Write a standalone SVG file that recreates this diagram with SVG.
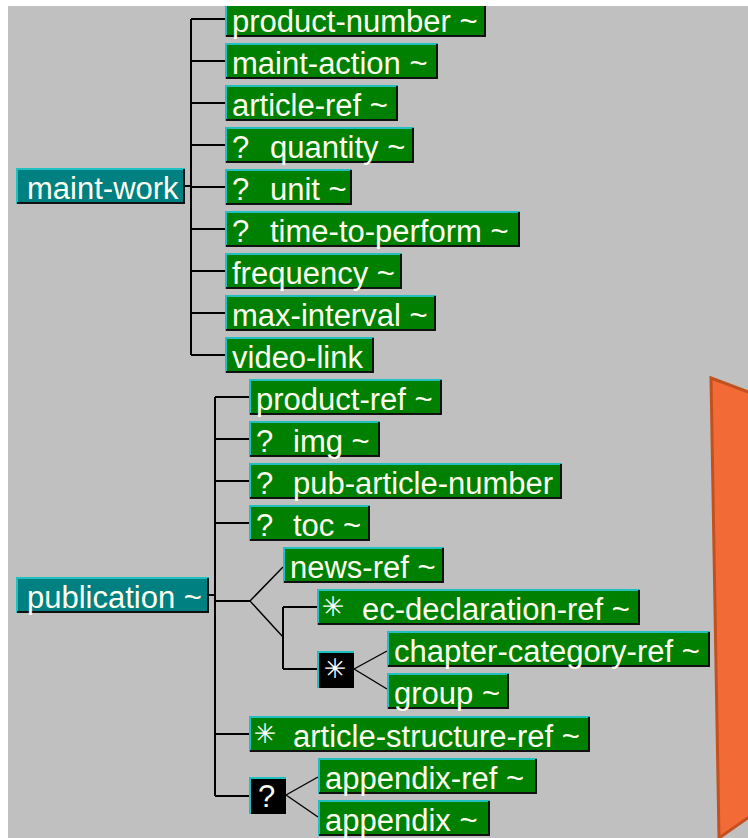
<svg xmlns="http://www.w3.org/2000/svg" width="748" height="838" viewBox="0 0 748 838">
<style>
.bg{fill:#c0c0c0}
.g{fill:#008000}
.t{fill:#008080}
.k{fill:#000}
.hi{stroke:#20c0c0;stroke-width:2;fill:none}
.sh{stroke:#111;stroke-width:2;fill:none}
.lbl{font-family:"Liberation Sans",Arial,sans-serif;font-size:31px;fill:#fffff0}
.sym{font-family:"DejaVu Sans",sans-serif;font-size:27px;fill:#ffffff;text-anchor:middle;dominant-baseline:central}
.wire{stroke:#000;stroke-width:2;fill:none}
.fork{stroke:#000;stroke-width:1.4;fill:none}
.orange{fill:#f26a35;stroke:#c2511f;stroke-width:3}
</style>
<rect width="748" height="838" fill="#fff"/>
<rect class="bg" x="8" y="6" width="740" height="832"/>
<polygon class="orange" points="711,378 762,397 762,808 719,838"/>

<g id="connectors">
<path class="wire" d="M185,186H191M191,19V355M191,19H225M191,61H225M191,103H225M191,145H225M191,187H225M191,229H225M191,271H225M191,313H225M191,355H225"/>
<path class="wire" d="M209,595H215M215,397V796M215,397H249M215,439H249M215,481H249M215,523H249M215,601H250M215,734H249M215,796H249"/>
<path class="fork" d="M250,601L283,567M250,601L283,637"/>
<path class="wire" d="M283,607V669M283,607H317M283,669H317"/>
<path class="fork" d="M354,669L387,651M354,669L387,689"/>
<path class="fork" d="M286,795L318,777M286,795L318,817"/>
</g>

<g id="maint-work"><rect class="t" x="16" y="168" width="169" height="36"/><path class="hi" d="M17,204V169H185"/><path class="sh" d="M17,203H184V169"/><text class="lbl" x="27" y="199">maint-work</text></g>

<g id="product-number"><rect class="g" x="225" y="1" width="261" height="36"/><path class="hi" d="M226,37V2H486"/><path class="sh" d="M226,36H485V2"/><text class="lbl" x="232" y="32">product-number ~</text></g>
<g id="maint-action"><rect class="g" x="225" y="43" width="213" height="36"/><path class="hi" d="M226,79V44H438"/><path class="sh" d="M226,78H437V44"/><text class="lbl" x="232" y="74">maint-action ~</text></g>
<g id="article-ref"><rect class="g" x="225" y="85" width="173" height="36"/><path class="hi" d="M226,121V86H398"/><path class="sh" d="M226,120H397V86"/><text class="lbl" x="232" y="116">article-ref ~</text></g>
<g id="quantity"><rect class="g" x="225" y="127" width="189" height="36"/><path class="hi" d="M226,163V128H414"/><path class="sh" d="M226,162H413V128"/><text class="lbl" x="232" y="158">?<tspan x="270">quantity ~</tspan></text></g>
<g id="unit"><rect class="g" x="225" y="169" width="127" height="36"/><path class="hi" d="M226,205V170H352"/><path class="sh" d="M226,204H351V170"/><text class="lbl" x="232" y="200">?<tspan x="270">unit ~</tspan></text></g>
<g id="time-to-perform"><rect class="g" x="225" y="211" width="295" height="36"/><path class="hi" d="M226,247V212H520"/><path class="sh" d="M226,246H519V212"/><text class="lbl" x="232" y="242">?<tspan x="270">time-to-perform ~</tspan></text></g>
<g id="frequency"><rect class="g" x="225" y="253" width="177" height="36"/><path class="hi" d="M226,289V254H402"/><path class="sh" d="M226,288H401V254"/><text class="lbl" x="232" y="284">frequency ~</text></g>
<g id="max-interval"><rect class="g" x="225" y="295" width="211" height="36"/><path class="hi" d="M226,331V296H436"/><path class="sh" d="M226,330H435V296"/><text class="lbl" x="232" y="326">max-interval ~</text></g>
<g id="video-link"><rect class="g" x="225" y="337" width="149" height="36"/><path class="hi" d="M226,373V338H374"/><path class="sh" d="M226,372H373V338"/><text class="lbl" x="232" y="368">video-link</text></g>

<g id="publication"><rect class="t" x="16" y="577" width="193" height="36"/><path class="hi" d="M17,613V578H209"/><path class="sh" d="M17,612H208V578"/><text class="lbl" x="27" y="608">publication ~</text></g>

<g id="product-ref"><rect class="g" x="249" y="379" width="193" height="36"/><path class="hi" d="M250,415V380H442"/><path class="sh" d="M250,414H441V380"/><text class="lbl" x="256" y="410">product-ref ~</text></g>
<g id="img"><rect class="g" x="249" y="421" width="131" height="36"/><path class="hi" d="M250,457V422H380"/><path class="sh" d="M250,456H379V422"/><text class="lbl" x="256" y="452">?<tspan x="293">img ~</tspan></text></g>
<g id="pub-article-number"><rect class="g" x="249" y="463" width="313" height="36"/><path class="hi" d="M250,499V464H562"/><path class="sh" d="M250,498H561V464"/><text class="lbl" x="256" y="494">?<tspan x="293">pub-article-number</tspan></text></g>
<g id="toc"><rect class="g" x="249" y="505" width="121" height="36"/><path class="hi" d="M250,541V506H370"/><path class="sh" d="M250,540H369V506"/><text class="lbl" x="256" y="536">?<tspan x="293">toc ~</tspan></text></g>
<g id="news-ref"><rect class="g" x="283" y="547" width="161" height="36"/><path class="hi" d="M284,583V548H444"/><path class="sh" d="M284,582H443V548"/><text class="lbl" x="290" y="578">news-ref ~</text></g>
<g id="ec-declaration-ref"><rect class="g" x="317" y="589" width="323" height="36"/><path class="hi" d="M318,625V590H640"/><path class="sh" d="M318,624H639V590"/><text class="sym" x="333" y="606">✳</text><text class="lbl" x="362" y="620">ec-declaration-ref ~</text></g>
<g id="star-group"><rect class="k" x="317" y="651" width="37" height="37"/><path class="hi" d="M318,688V652H354"/><text class="sym" x="335" y="668">✳</text></g>
<g id="chapter-category-ref"><rect class="g" x="387" y="631" width="323" height="36"/><path class="hi" d="M388,667V632H710"/><path class="sh" d="M388,666H709V632"/><text class="lbl" x="394" y="662">chapter-category-ref ~</text></g>
<g id="group"><rect class="g" x="387" y="673" width="122" height="36"/><path class="hi" d="M388,709V674H509"/><path class="sh" d="M388,708H508V674"/><text class="lbl" x="394" y="704">group ~</text></g>
<g id="article-structure-ref"><rect class="g" x="249" y="716" width="341" height="36"/><path class="hi" d="M250,752V717H590"/><path class="sh" d="M250,751H589V717"/><text class="sym" x="265" y="733">✳</text><text class="lbl" x="293" y="747">article-structure-ref ~</text></g>
<g id="optional-group"><rect class="k" x="249" y="777" width="37" height="37"/><path class="hi" d="M250,814V778H286"/><text class="lbl" x="258" y="807">?</text></g>
<g id="appendix-ref"><rect class="g" x="318" y="758" width="219" height="36"/><path class="hi" d="M319,794V759H537"/><path class="sh" d="M319,793H536V759"/><text class="lbl" x="325" y="789">appendix-ref ~</text></g>
<g id="appendix"><rect class="g" x="318" y="800" width="172" height="36"/><path class="hi" d="M319,836V801H490"/><path class="sh" d="M319,835H489V801"/><text class="lbl" x="325" y="831">appendix ~</text></g>

<rect x="0" y="0" width="748" height="6" fill="#fff"/>
</svg>
